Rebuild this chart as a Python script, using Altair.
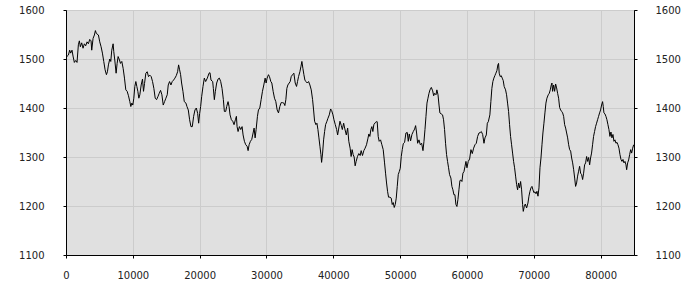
import altair as alt
import pandas as pd

x_vals = [0, 60, 360, 550, 700, 900, 1050, 1250, 1450, 1650, 1850, 2000, 2150, 2350, 2550, 2750, 2950, 3150, 3350,
          3550, 3750, 3850, 4050, 4250, 4400, 4550, 4850, 5050, 5250, 5450, 5650, 5850, 6050, 6200, 6350, 6550, 6700,
          6850, 7050, 7150, 7300, 7500, 7650, 7800, 8000, 8150, 8350, 8550, 8750, 8950, 9150, 9350, 9550, 9700, 9850,
          10000, 10150, 10300, 10450, 10600, 10750, 10900, 11050, 11250, 11450, 11600, 11750, 11950, 12150, 12350,
          12550, 12750, 12950, 13150, 13350, 13550, 13750, 13950, 14150, 14350, 14550, 14750, 14950, 15150, 15300,
          15500, 15700, 15900, 16100, 16300, 16500, 16700, 16850, 17000, 17150, 17300, 17500, 17700, 17950, 18100,
          18300, 18500, 18700, 18900, 19100, 19300, 19500, 19700, 19850, 20000, 20150, 20300, 20500, 20700, 20900,
          21150, 21400, 21550, 21700, 21950, 22050, 22200, 22350, 22550, 22750, 22950, 23150, 23350, 23550, 23700,
          23900, 24050, 24250, 24400, 24550, 24750, 24950, 25150, 25350, 25500, 25600, 25750, 25950, 26150, 26350,
          26500, 26700, 26900, 27100, 27250, 27400, 27600, 27800, 28000, 28150, 28300, 28450, 28650, 28800, 29000,
          29200, 29400, 29600, 29800, 29950, 30100, 30300, 30450, 30650, 30800, 31000, 31200, 31400, 31600, 31800,
          32000, 32200, 32400, 32600, 32750, 32900, 33050, 33200, 33400, 33550, 33700, 33900, 34100, 34300, 34500,
          34650, 34800, 35000, 35150, 35300, 35450, 35600, 35750, 35900, 36100, 36300, 36500, 36700, 36900, 37050,
          37200, 37400, 37550, 37700, 37850, 38000, 38150, 38250, 38400, 38550, 38700, 38850, 39050, 39200, 39400,
          39600, 39750, 39950, 40100, 40300, 40500, 40650, 40800, 41000, 41200, 41350, 41550, 41700, 41950, 42150,
          42320, 42520, 42670, 42820, 42970, 43120, 43270, 43420, 43620, 43820, 44020, 44170, 44370, 44570, 44760,
          44970, 45170, 45320, 45470, 45620, 45770, 45920, 46070, 46270, 46420, 46570, 46720, 46870, 47070, 47270,
          47470, 47670, 47820, 47970, 48120, 48270, 48470, 48670, 48820, 48970, 49120, 49270, 49420, 49570, 49720,
          49870, 50020, 50170, 50320, 50470, 50670, 50870, 51070, 51220, 51370, 51570, 51770, 51970, 52170, 52320,
          52470, 52620, 52820, 53020, 53220, 53420, 53570, 53720, 53870, 54020, 54170, 54320, 54470, 54670, 54870,
          55020, 55170, 55370, 55500, 55670, 55820, 55950, 56150, 56350, 56500, 56650, 56800, 56950, 57100, 57250,
          57400, 57600, 57750, 57900, 58050, 58200, 58350, 58500, 58650, 58800, 58950, 59100, 59250, 59400, 59550,
          59700, 59850, 60000, 60200, 60400, 60600, 60800, 61000, 61200, 61400, 61600, 61800, 62000, 62150, 62350,
          62550, 62700, 62900, 63050, 63200, 63430, 63580, 63730, 63880, 64030, 64180, 64330, 64480, 64630, 64730,
          64830, 64980, 65130, 65280, 65430, 65570, 65780, 65930, 66080, 66230, 66380, 66530, 66680, 66830, 66980,
          67130, 67280, 67430, 67580, 67730, 67880, 68030, 68180, 68330, 68430, 68580, 68730, 68930, 69130, 69280,
          69430, 69580, 69730, 69880, 70030, 70180, 70330, 70480, 70630, 70780, 70930, 71080, 71230, 71370, 71520,
          71670, 71820, 71970, 72170, 72320, 72470, 72620, 72720, 72820, 72970, 73120, 73270, 73420, 73570, 73720,
          73870, 74020, 74170, 74320, 74470, 74620, 74770, 74920, 75070, 75220, 75370, 75520, 75670, 75820, 75970,
          76120, 76260, 76410, 76560, 76710, 76860, 77010, 77160, 77310, 77460, 77610, 77760, 77910, 78060, 78210,
          78360, 78500, 78650, 78800, 78950, 79100, 79250, 79400, 79550, 79700, 79850, 80000, 80150, 80300, 80400,
          80500, 80650, 80800, 80950, 81100, 81250, 81400, 81550, 81700, 81850, 82000, 82150, 82300, 82450, 82600,
          82750, 82900, 83050, 83200, 83350, 83500, 83650, 83800, 83900, 84050, 84200, 84350, 84500, 84650, 84800,
          84950]

y_vals = [1500, 1504, 1508, 1518, 1512, 1518, 1506, 1493, 1497, 1493, 1529, 1537, 1525, 1533, 1522, 1531, 1527, 1535,
          1531, 1540, 1537, 1518, 1542, 1549, 1558, 1552, 1549, 1535, 1525, 1512, 1495, 1478, 1468, 1474, 1488, 1500,
          1495, 1518, 1531, 1515, 1498, 1471, 1491, 1505, 1498, 1491, 1495, 1481, 1461, 1437, 1434, 1425, 1413, 1403,
          1410, 1406, 1420, 1444, 1454, 1444, 1434, 1420, 1427, 1447, 1459, 1434, 1450, 1471, 1474, 1464, 1467, 1464,
          1454, 1440, 1420, 1417, 1423, 1430, 1436, 1427, 1406, 1413, 1420, 1427, 1447, 1454, 1447, 1454, 1457, 1461,
          1466, 1474, 1488, 1478, 1468, 1451, 1434, 1413, 1410, 1403, 1396, 1376, 1362, 1362, 1383, 1396, 1400, 1389,
          1369, 1389, 1403, 1423, 1444, 1461, 1454,
          1461, 1471, 1472, 1457, 1454, 1440, 1417, 1434, 1451, 1459, 1461, 1454, 1440, 1417, 1393, 1393, 1403, 1413,
          1403, 1386, 1376, 1373, 1366, 1376, 1383, 1362, 1352, 1362, 1356, 1362, 1345, 1332, 1325, 1322, 1313, 1325,
          1332, 1336, 1349, 1359, 1339, 1356, 1383, 1396, 1400, 1417, 1434, 1447, 1461, 1451, 1461, 1468, 1464, 1454,
          1451, 1434, 1420, 1413, 1396, 1390, 1403, 1411, 1411, 1410, 1405, 1417, 1440, 1447, 1451, 1454, 1464, 1468,
          1471, 1451, 1444, 1454, 1464, 1474, 1484, 1495, 1481, 1468, 1457, 1454, 1451, 1454, 1447, 1437, 1417, 1396,
          1373, 1366, 1369, 1356, 1339, 1322, 1305, 1289, 1308, 1335, 1352, 1366, 1373, 1379, 1386, 1398, 1395, 1386,
          1376, 1366, 1356, 1345, 1357, 1373, 1364, 1356, 1369, 1359, 1345, 1359,
          1332, 1318, 1301, 1315, 1305, 1300, 1282, 1291, 1301, 1307, 1303, 1313, 1303, 1313, 1318, 1325, 1337, 1347,
          1342, 1356, 1362, 1352, 1366, 1370, 1372, 1372, 1342, 1332, 1335, 1325, 1315, 1288, 1267, 1247, 1230, 1218,
          1218, 1216, 1203, 1207, 1197, 1203, 1216, 1240, 1264, 1270, 1277, 1301, 1315, 1327, 1330, 1349, 1350, 1332,
          1347, 1333, 1346, 1352, 1357, 1364, 1349, 1328, 1335, 1325, 1328, 1313, 1332, 1356, 1383, 1410, 1420, 1430,
          1437, 1442, 1435, 1425, 1430, 1427, 1437, 1427, 1406, 1390, 1388, 1386, 1376, 1356, 1328, 1305, 1291, 1278,
          1264, 1257, 1240, 1233, 1223, 1223, 1203, 1199, 1213, 1233, 1252, 1253, 1250, 1267, 1270, 1280, 1291, 1278,
          1291, 1296, 1315, 1307, 1318, 1325, 1328, 1342, 1349, 1350, 1352, 1346, 1328, 1339, 1345, 1369, 1372,
          1386, 1413, 1440, 1454, 1461, 1466, 1471, 1476, 1488, 1491, 1471, 1464, 1466, 1461, 1456, 1444, 1437, 1427,
          1410, 1393, 1366, 1342, 1325, 1308, 1291, 1278, 1261, 1244, 1233, 1247, 1237, 1250, 1233, 1203, 1189, 1199,
          1204, 1196, 1206, 1220, 1230, 1237, 1240, 1233, 1227, 1229, 1225, 1230, 1220, 1237, 1278, 1298, 1325, 1349,
          1369, 1390, 1410, 1420, 1427, 1430, 1437, 1447, 1451, 1434, 1447, 1434, 1449, 1441, 1430, 1420, 1401, 1396,
          1393, 1390, 1383, 1366, 1359, 1349, 1339, 1325, 1315, 1312, 1298, 1288, 1274, 1257, 1240, 1247, 1261, 1271,
          1281, 1267, 1264, 1254, 1267, 1284, 1288, 1301, 1291, 1299, 1284, 1298, 1308, 1325, 1342, 1352, 1362, 1369,
          1376, 1383, 1390, 1396, 1406, 1413, 1403, 1390, 1388, 1383, 1376, 1366, 1356, 1342, 1351, 1339, 1346, 1332,
          1335, 1328, 1330, 1325, 1318, 1305, 1295, 1291, 1295, 1288, 1291, 1284, 1274, 1288, 1294, 1305, 1315, 1308,
          1318, 1325]

x_ticks = [0, 10000, 20000, 30000, 40000, 50000, 60000, 70000, 80000]
y_ticks = [1100, 1200, 1300, 1400, 1500, 1600]

df = pd.DataFrame({"x": x_vals, "y": y_vals})

FONT = "DejaVu Sans"
common = dict(labelFont=FONT, labelFontSize=10, labelColor="#222", domainColor="black",
              tickColor="black", tickSize=3, title=None, format="d", labelFlush=False)

x_scale = alt.Scale(domain=[0, 85000], nice=False, zero=False)
x_axis = alt.Axis(orient="bottom", values=x_ticks, grid=True, gridColor="#cccccc",
                  labelPadding=12, **common)
y_scale = alt.Scale(domain=[1100, 1600], nice=False, zero=False)

left = alt.Chart(df).mark_line(color="black", strokeWidth=1, clip=True).encode(
    x=alt.X("x:Q", scale=x_scale, axis=x_axis),
    y=alt.Y("y:Q", scale=y_scale,
            axis=alt.Axis(orient="left", values=y_ticks, grid=True, gridColor="#cccccc",
                          labelPadding=19, **common)),
)
right = alt.Chart(df).mark_line(opacity=0).encode(
    x=alt.X("x:Q", scale=x_scale, axis=x_axis),
    y=alt.Y("y:Q", scale=y_scale,
            axis=alt.Axis(orient="right", values=y_ticks, grid=False, labelPadding=18,
                          labelAlign="left", **common)),
)

chart = alt.layer(left, right).resolve_scale(y="independent").properties(
    width=568, height=245,
    padding={"left": 66, "top": 10, "right": 66, "bottom": 45},
    autosize=alt.AutoSizeParams(type="none"),
    background="white",
).configure_view(fill="#e0e0e0", stroke="black", strokeWidth=1)

chart.save("out.html", embed_options={"renderer": "svg", "actions": False})
